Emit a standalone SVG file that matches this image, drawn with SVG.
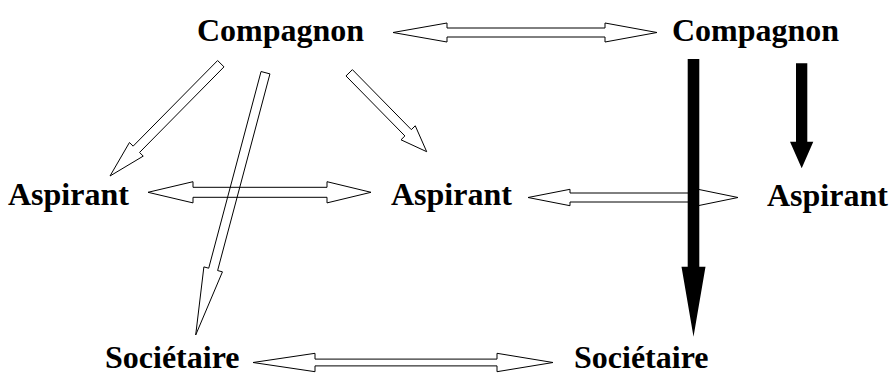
<svg xmlns="http://www.w3.org/2000/svg" width="889" height="374" viewBox="0 0 889 374">
<style>
.lbl{font-family:"Liberation Serif","Times New Roman",serif;font-weight:bold;font-size:32px;fill:#000}
.open{fill:none;stroke:#000;stroke-width:1;stroke-linejoin:miter}
.solid{fill:#000;stroke:none}
</style>
<rect width="889" height="374" fill="#fff"/>
<g id="connectors">
<polygon class="open" points="393,32.5 447,23 447,28 605,28 605,23 657,32.5 605,42 605,37 447,37 447,42"/>
<polygon class="open" points="148,192.3 193,181.7 193,187.3 327,187.3 327,181.7 371,192.3 327,202.9 327,197.3 193,197.3 193,202.9"/>
<polygon class="open" points="528,197.5 570,189.3 570,193 698,193 698,189.3 738,197.5 698,205.7 698,202 570,202 570,205.7"/>
<polygon class="open" points="253,362.5 315,353.3 315,359.1 497,359.1 497,353.3 553,362.5 497,371.7 497,365.9 315,365.9 315,371.7"/>
<polygon class="open" points="217.6,60.54 133.14,146.15 129.44,142.5 110,176 143.24,156.12 139.54,152.47 224,66.86"/>
<polygon class="open" points="345.99,75.95 404.92,135.94 401,139.8 426.7,151.7 415.26,125.78 411.34,129.64 352.41,69.65"/>
<polygon class="open" points="261.05,71.52 208.71,268.19 203.88,266.9 195.7,335 222.44,271.84 217.61,270.55 269.95,73.88"/>
<polygon class="solid" points="687.7,59 699.3,59 699.3,266.7 705.5,266.7 693.5,336.7 681.5,266.7 687.7,266.7"/>
<polygon class="solid" points="796,63.3 807.3,63.3 807.3,141.7 813.3,141.7 801.7,168.3 790,141.7 796,141.7"/>
</g>
<g id="compagnon1"><text class="lbl" x="197" y="41">Compagnon</text></g>
<g id="compagnon2"><text class="lbl" x="672" y="41">Compagnon</text></g>
<g id="aspirant1"><text class="lbl" x="8" y="205">Aspirant</text></g>
<g id="aspirant2"><text class="lbl" x="391" y="205">Aspirant</text></g>
<g id="aspirant3"><text class="lbl" x="767" y="206">Aspirant</text></g>
<g id="societaire1"><text class="lbl" x="105" y="368">Sociétaire</text></g>
<g id="societaire2"><text class="lbl" x="574" y="368">Sociétaire</text></g>
</svg>
